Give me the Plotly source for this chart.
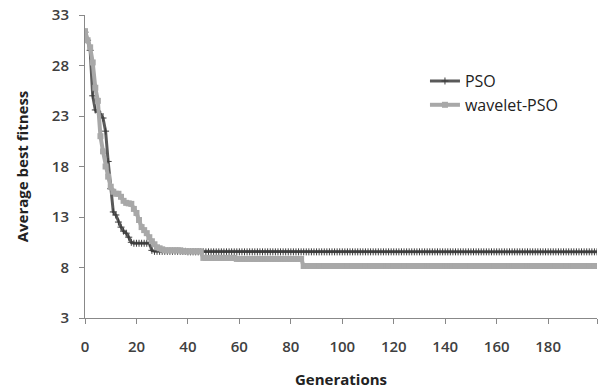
import plotly.graph_objects as go

generations = list(range(0, 200))

pso_fitness = [
    31.3, 30.5, 29.5, 25.0, 23.6, 23.4, 23.2, 22.8, 21.5, 18.5,
    15.8, 13.5, 13.2, 12.5, 12.0, 11.6, 11.4, 11.0, 10.5, 10.4,
    10.4, 10.4, 10.4, 10.4, 10.4, 10.4, 9.7, 9.6, 9.6, 9.6,
    9.6, 9.6, 9.6, 9.6, 9.6, 9.6, 9.6, 9.6, 9.6, 9.6,
    9.55, 9.55, 9.55, 9.55, 9.55, 9.55, 9.55, 9.55, 9.55, 9.55,
    9.55, 9.55, 9.55, 9.55, 9.55, 9.55, 9.55, 9.55, 9.55, 9.55,
    9.55, 9.55, 9.55, 9.55, 9.55, 9.55, 9.55, 9.55, 9.55, 9.55,
    9.55, 9.55, 9.55, 9.55, 9.55, 9.55, 9.55, 9.55, 9.55, 9.55,
    9.55, 9.55, 9.55, 9.55, 9.55, 9.55, 9.55, 9.55, 9.55, 9.55,
    9.55, 9.55, 9.55, 9.55, 9.55, 9.55, 9.55, 9.55, 9.55, 9.55,
    9.55, 9.55, 9.55, 9.55, 9.55, 9.55, 9.55, 9.55, 9.55, 9.55,
    9.55, 9.55, 9.55, 9.55, 9.55, 9.55, 9.55, 9.55, 9.55, 9.55,
    9.55, 9.55, 9.55, 9.55, 9.55, 9.55, 9.55, 9.55, 9.55, 9.55,
    9.55, 9.55, 9.55, 9.55, 9.55, 9.55, 9.55, 9.55, 9.55, 9.55,
    9.55, 9.55, 9.55, 9.55, 9.55, 9.55, 9.55, 9.55, 9.55, 9.55,
    9.55, 9.55, 9.55, 9.55, 9.55, 9.55, 9.55, 9.55, 9.55, 9.55,
    9.55, 9.55, 9.55, 9.55, 9.55, 9.55, 9.55, 9.55, 9.55, 9.55,
    9.55, 9.55, 9.55, 9.55, 9.55, 9.55, 9.55, 9.55, 9.55, 9.55,
    9.55, 9.55, 9.55, 9.55, 9.55, 9.55, 9.55, 9.55, 9.55, 9.55,
    9.55, 9.55, 9.55, 9.55, 9.55, 9.55, 9.55, 9.55, 9.55, 9.55,
]

wavelet_pso_fitness = [
    31.4, 30.5, 29.8, 28.3, 25.8, 24.5, 21.0, 19.5, 18.0, 17.0,
    16.0, 15.5, 15.3, 15.3, 15.0, 14.6, 14.4, 14.35, 14.3, 13.8,
    13.4, 12.7, 12.0, 11.7, 11.4, 11.0, 10.6, 10.3, 10.0, 9.9,
    9.8, 9.7, 9.7, 9.7, 9.7, 9.7, 9.7, 9.7, 9.6, 9.6,
    9.6, 9.6, 9.6, 9.6, 9.6, 9.6, 8.95, 8.95, 8.95, 8.95,
    8.95, 8.95, 8.95, 8.95, 8.95, 8.95, 8.95, 8.95, 8.95, 8.85,
    8.85, 8.85, 8.85, 8.85, 8.85, 8.85, 8.85, 8.85, 8.85, 8.85,
    8.85, 8.85, 8.85, 8.85, 8.85, 8.85, 8.85, 8.85, 8.85, 8.85,
    8.85, 8.85, 8.85, 8.85, 8.85, 8.15, 8.15, 8.15, 8.15, 8.15,
    8.15, 8.15, 8.15, 8.15, 8.15, 8.15, 8.15, 8.15, 8.15, 8.15,
    8.15, 8.15, 8.15, 8.15, 8.15, 8.15, 8.15, 8.15, 8.15, 8.15,
    8.15, 8.15, 8.15, 8.15, 8.15, 8.15, 8.15, 8.15, 8.15, 8.15,
    8.15, 8.15, 8.15, 8.15, 8.15, 8.15, 8.15, 8.15, 8.15, 8.15,
    8.15, 8.15, 8.15, 8.15, 8.15, 8.15, 8.15, 8.15, 8.15, 8.15,
    8.15, 8.15, 8.15, 8.15, 8.15, 8.15, 8.15, 8.15, 8.15, 8.15,
    8.15, 8.15, 8.15, 8.15, 8.15, 8.15, 8.15, 8.15, 8.15, 8.15,
    8.15, 8.15, 8.15, 8.15, 8.15, 8.15, 8.15, 8.15, 8.15, 8.15,
    8.15, 8.15, 8.15, 8.15, 8.15, 8.15, 8.15, 8.15, 8.15, 8.15,
    8.15, 8.15, 8.15, 8.15, 8.15, 8.15, 8.15, 8.15, 8.15, 8.15,
    8.15, 8.15, 8.15, 8.15, 8.15, 8.15, 8.15, 8.15, 8.15, 8.15,
]

x_tick_values = [0, 20, 40, 60, 80, 100, 120, 140, 160, 180, 199]
x_tick_labels = ["0", "20", "40", "60", "80", "100", "120", "140", "160", "180", ""]
y_tick_values = [3, 8, 13, 18, 23, 28, 33]

fig = go.Figure()
fig.add_trace(go.Scatter(
    x=generations, y=pso_fitness, name="PSO", mode="lines+markers",
    line=dict(color="#5a5a5a", width=3),
    marker=dict(symbol="cross-thin", size=5, color="#3c3c3c",
                line=dict(width=1, color="#3c3c3c")),
))
fig.add_trace(go.Scatter(
    x=generations, y=wavelet_pso_fitness, name="wavelet-PSO", mode="lines+markers",
    line=dict(color="#a8a8a8", width=4),
    marker=dict(symbol="square", size=6, color="#a8a8a8"),
))

font_family = "Open Sans, Liberation Sans, sans-serif"
fig.update_layout(
    width=600, height=389,
    margin=dict(l=85, r=3, t=15, b=71, autoexpand=False),
    paper_bgcolor="white", plot_bgcolor="white",
    font=dict(family=font_family, color="#404040"),
    showlegend=True,
    legend=dict(x=0.664, y=0.838, xanchor="left", yanchor="top",
                bgcolor="rgba(0,0,0,0)", itemwidth=30,
                font=dict(size=16, color="#222222"), tracegroupgap=0),
    xaxis=dict(
        range=[0, 199], tickmode="array", tickvals=x_tick_values, ticktext=x_tick_labels,
        automargin=False,
        showgrid=False, zeroline=False, showline=True, linecolor="#888888", linewidth=1,
        ticks="outside", ticklen=5, tickcolor="#888888", ticklabelstandoff=10,
        tickfont=dict(size=15, weight=600, color="#404040"),
        title=dict(text="Generations", standoff=24,
                   font=dict(size=15, weight="bold", color="#222222")),
    ),
    yaxis=dict(
        range=[3, 33], tickmode="array", tickvals=y_tick_values,
        automargin=False,
        showgrid=False, zeroline=False, showline=True, linecolor="#888888", linewidth=1,
        ticks="outside", ticklen=5, tickcolor="#888888", ticklabelstandoff=7,
        tickfont=dict(size=15, weight=600, color="#404040"),
        title=dict(text="Average best fitness", standoff=19,
                   font=dict(size=15, weight="bold", color="#222222")),
    ),
)

fig.write_html("out.html", config={"displayModeBar": False},
               post_script="document.body.style.margin='0';")
